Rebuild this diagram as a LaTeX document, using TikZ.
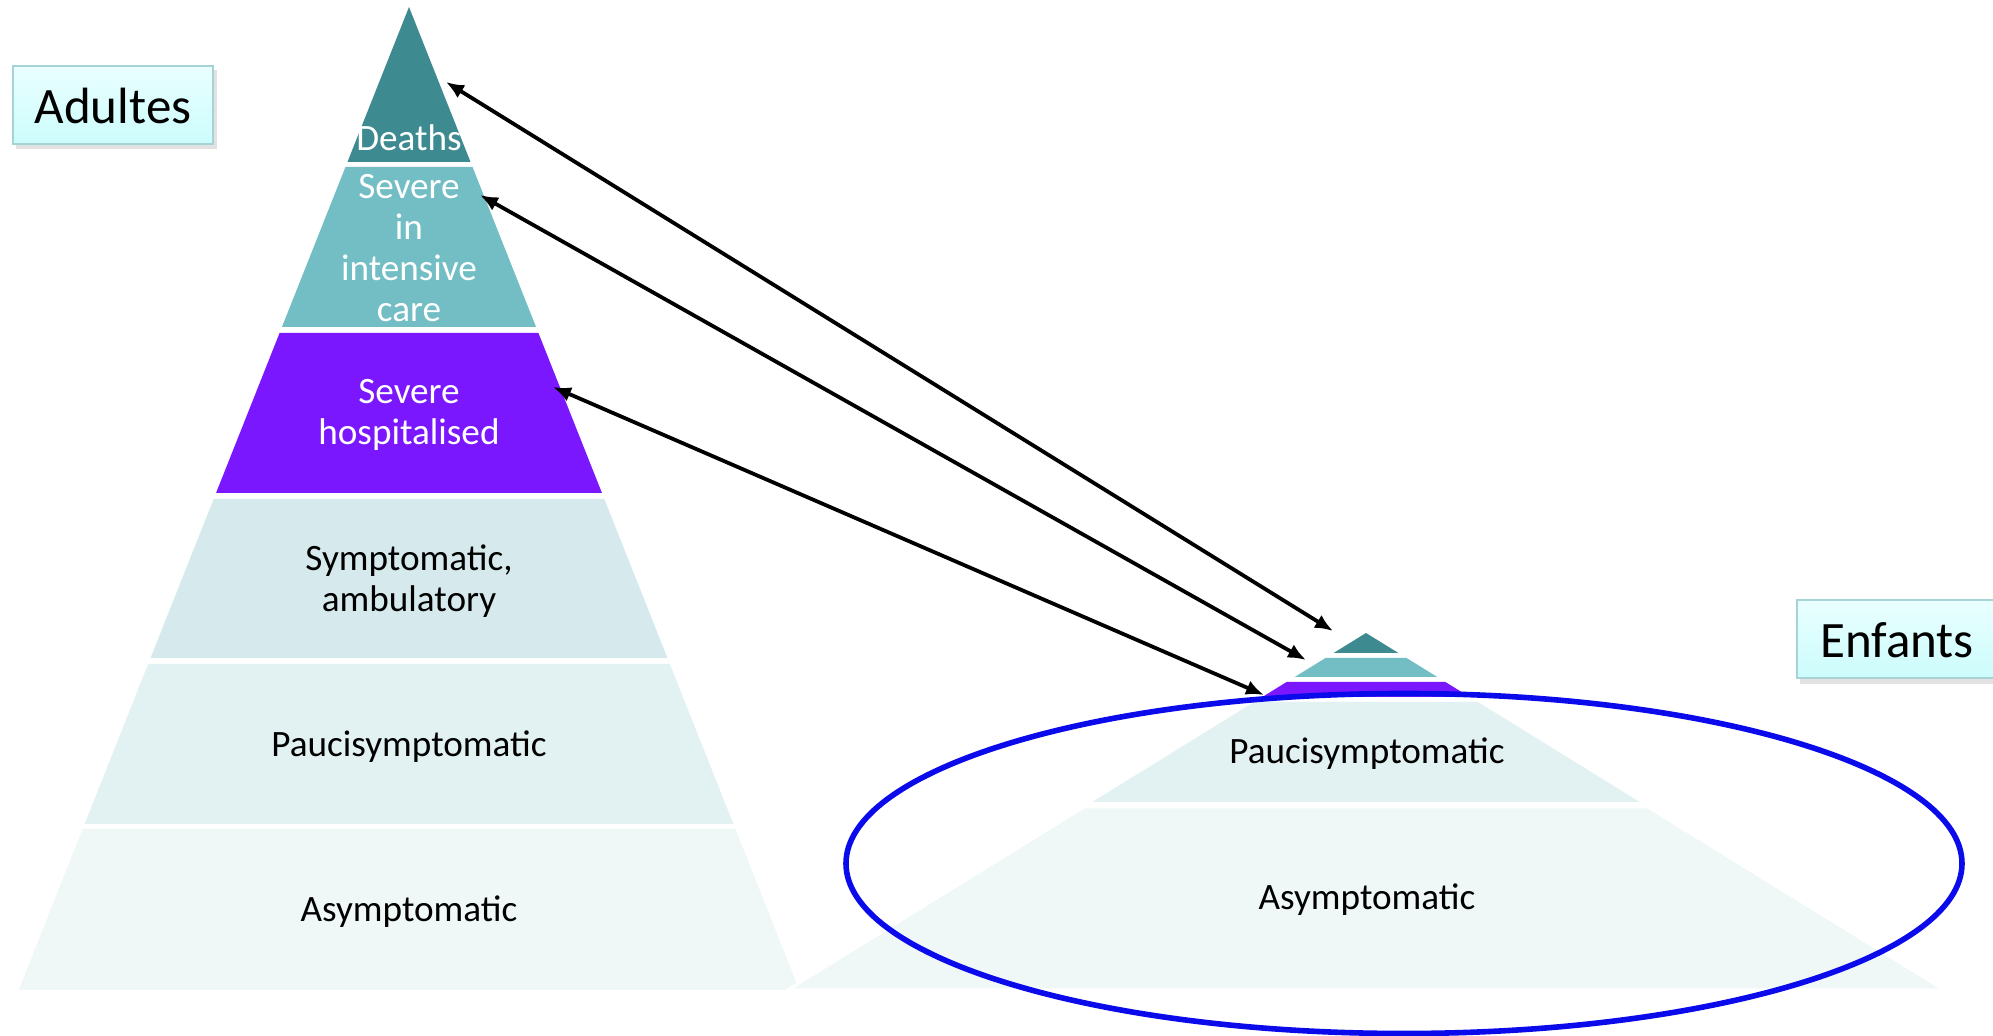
\documentclass[tikz,border=0pt]{standalone}
\usepackage{fontspec}
\setmainfont{Carlito}
\usetikzlibrary{arrows.meta}
\definecolor{cDeath}{HTML}{3D8A90}
\definecolor{cIcu}{HTML}{72BEC4}
\definecolor{cHosp}{HTML}{7B17FF}
\definecolor{cSympt}{HTML}{D6EAED}
\definecolor{cPauci}{HTML}{E2F1F2}
\definecolor{cAsym}{HTML}{EFF7F7}
\definecolor{cBlue}{RGB}{10,10,235}
\definecolor{cBoxTop}{HTML}{EAFFFF}
\definecolor{cBoxBot}{HTML}{CCFCFC}
\definecolor{cBoxLine}{HTML}{A6D4D6}
\newcommand\pband[6]{%
  \fill[#6] ({#1-#3*(#4-#2)},#4) -- ({#1+#3*(#4-#2)},#4) -- ({#1+#3*(#5-#2)},#5) -- ({#1-#3*(#5-#2)},#5) -- cycle;}
\tikzset{
  lab/.style={inner sep=0pt, align=center, font=\fontsize{18.6pt}{20.6pt}\selectfont, text=black},
  wlab/.style={lab, text=white},
  title/.style={inner sep=0pt, font=\fontsize{25.5pt}{28pt}\selectfont, text=black},
  link/.style={line width=1.9pt, black, {Latex[length=9pt,width=7.5pt]}-{Latex[length=9pt,width=7.5pt]}},
  tbox/.style={top color=cBoxTop, bottom color=cBoxBot, draw=cBoxLine, line width=0.8pt},
  tshadow/.style={fill=gray!45, opacity=0.5}
}
\begin{document}
\begin{tikzpicture}[x=0.5pt,y=-0.5pt]
\useasboundingbox (0,0) rectangle (1993,1036);
\clip (0,0) rectangle (1993,1036);
\fill[white] (0,0) rectangle (1993,1036);

% left pyramid
\pband{409}{7}{0.397}{7}{162}{cDeath}
\pband{409}{7}{0.397}{167}{327}{cIcu}
\pband{409}{7}{0.397}{333}{493}{cHosp}
\pband{409}{7}{0.397}{499}{658}{cSympt}
\pband{409}{7}{0.397}{664}{824}{cPauci}
\pband{409}{7}{0.397}{829}{990}{cAsym}

% right pyramid
\pband{1366}{633}{1.62}{633}{653}{cDeath}
\pband{1366}{633}{1.62}{658}{677}{cIcu}
\pband{1366}{633}{1.62}{682}{697}{cHosp}
\pband{1366}{633}{1.62}{702}{802}{cPauci}
\draw[white, line width=1.5pt, fill=cAsym] ({1366-1.62*(807-633)},807) -- ({1366+1.62*(807-633)},807) -- ({1366+1.62*(990-633)},990) -- ({1366-1.62*(990-633)},990) -- cycle;

% labels left
\node[wlab] (lDeath) at (409,138) {Deaths};
\node[wlab] (lIcu) at (409,248) {Severe\\in\\intensive\\care};
\node[wlab] (lHosp) at (409,415) {Severe\\hospitalised};
\node[lab] (lSympt) at (409,581) {Symptomatic,\\ambulatory};
\node[lab] (lPauci) at (409,747) {Paucisymptomatic};
\node[lab] (lAsym) at (409,912) {Asymptomatic};

% labels right
\node[lab] (rPauci) at (1367,754) {Paucisymptomatic};
\node[lab] (rAsym) at (1367,900) {Asymptomatic};

% ellipse
\draw[cBlue, line width=2.8pt] (1404,863.5) ellipse [x radius=558, y radius=170];

% title boxes
\fill[tshadow] (16,70) rectangle (217,149);
\node[tbox, minimum width=100pt, minimum height=39pt, inner sep=0pt] (adultes) at (113,105) {};
\node[title] (tAdultes) at (113,106) {Adultes};
\fill[tshadow] (1800,604) rectangle (2010,684);
\node[tbox, minimum width=107pt, minimum height=39pt, inner sep=0pt] (enfants) at (1904,639) {};
\node[title] (tEnfants) at (1897,640) {Enfants};

% arrow endpoints
\coordinate (aDeath) at (446,82);
\coordinate (bDeath) at (1333,631);
\coordinate (aIcu) at (480,195);
\coordinate (bIcu) at (1306,660);
\coordinate (aHosp) at (553,387);
\coordinate (bHosp) at (1264,695);
\draw[link] (aDeath) -- (bDeath);
\draw[link] (aIcu) -- (bIcu);
\draw[link] (aHosp) -- (bHosp);
\end{tikzpicture}
\end{document}
